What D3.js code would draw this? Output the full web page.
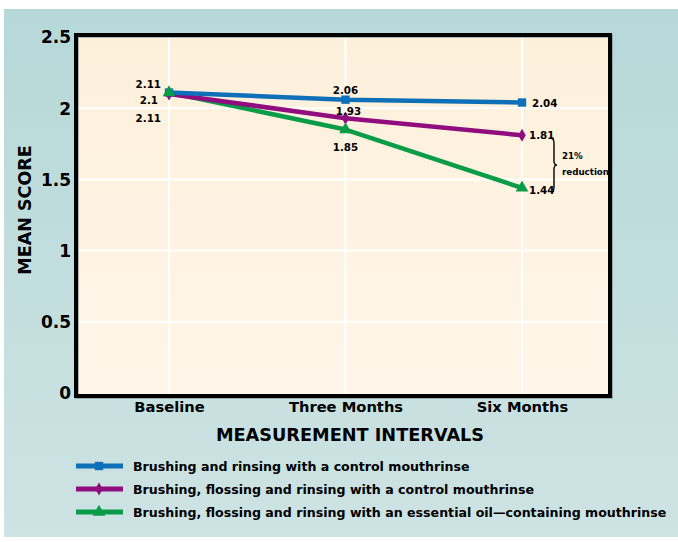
<!DOCTYPE html>
<html>
<head>
<meta charset="utf-8">
<script src="https://cdn.jsdelivr.net/npm/d3@7"></script>
<style>
  html, body { margin: 0; padding: 0; background: #ffffff; }
  svg { display: block; }
  text { font-family: "DejaVu Sans", sans-serif; font-weight: bold; fill: #000; }
</style>
</head>
<body>
<svg id="chart" width="678" height="542"></svg>
<script>
// Measurement intervals and mean scores for each regimen
const categories = ["Baseline", "Three Months", "Six Months"];
const brushRinseControl = [2.11, 2.06, 2.04];
const brushFlossControl = [2.1, 1.93, 1.81];
const brushFlossEssentialOil = [2.11, 1.85, 1.44];
const yTicks = [0, 0.5, 1, 1.5, 2, 2.5];
const seriesNames = [
  "Brushing and rinsing with a control mouthrinse",
  "Brushing, flossing and rinsing with a control mouthrinse",
  "Brushing, flossing and rinsing with an essential oil\u2014containing mouthrinse"
];
const reductionLabel = ["21%", "reduction"];

const series = [
  { name: seriesNames[0], values: brushRinseControl, color: "#0d70b8", symbol: d3.symbolSquare, size: 70 },
  { name: seriesNames[1], values: brushFlossControl, color: "#900d80", symbol: d3.symbolDiamond, size: 50 },
  { name: seriesNames[2], values: brushFlossEssentialOil, color: "#0b9c4a", symbol: d3.symbolTriangle, size: 70 }
];

const svg = d3.select("#chart");
const defs = svg.append("defs");

const bgGrad = defs.append("linearGradient").attr("id", "bgGrad").attr("x1", 0).attr("y1", 0).attr("x2", 0).attr("y2", 1);
bgGrad.append("stop").attr("offset", "0%").attr("stop-color", "#b6d8d8");
bgGrad.append("stop").attr("offset", "100%").attr("stop-color", "#cee3e3");

const plotGrad = defs.append("linearGradient").attr("id", "plotGrad").attr("x1", 0).attr("y1", 0).attr("x2", 0).attr("y2", 1);
plotGrad.append("stop").attr("offset", "0%").attr("stop-color", "#fdf0db");
plotGrad.append("stop").attr("offset", "100%").attr("stop-color", "#fff6e9");

// Panel background
svg.append("rect").attr("x", 4).attr("y", 9).attr("width", 674).attr("height", 528).attr("fill", "url(#bgGrad)");

// Plot area
const plot = { left: 76, right: 610, top: 35, bottom: 396 };
const y = d3.scaleLinear().domain([0, 2.5]).range([393, 37]);
const x = d3.scalePoint().domain(categories).range([169, 522]);

svg.append("rect")
  .attr("x", plot.left).attr("y", plot.top)
  .attr("width", plot.right - plot.left).attr("height", plot.bottom - plot.top)
  .attr("fill", "url(#plotGrad)");

// Grid lines
svg.append("g").selectAll("line").data(yTicks.filter(t => t > 0 && t < 2.5)).join("line")
  .attr("x1", plot.left).attr("x2", plot.right)
  .attr("y1", d => y(d)).attr("y2", d => y(d))
  .attr("stroke", "#ffffff").attr("stroke-width", 2);
svg.append("g").selectAll("line").data(categories).join("line")
  .attr("x1", d => x(d)).attr("x2", d => x(d))
  .attr("y1", plot.top).attr("y2", plot.bottom)
  .attr("stroke", "#ffffff").attr("stroke-width", 2);

// Frame
svg.append("rect")
  .attr("x", plot.left + 1).attr("y", plot.top + 1)
  .attr("width", plot.right - plot.left).attr("height", plot.bottom - plot.top)
  .attr("fill", "none").attr("stroke", "#5f7a7a").attr("stroke-width", 4).attr("opacity", 0.5);
svg.append("rect")
  .attr("x", plot.left).attr("y", plot.top)
  .attr("width", plot.right - plot.left).attr("height", plot.bottom - plot.top)
  .attr("fill", "none").attr("stroke", "#000").attr("stroke-width", 4);

// Y axis labels
const yAxis = d3.axisLeft(y).tickValues(yTicks).tickSize(0).tickPadding(0).tickFormat(d3.format(""));
const yg = svg.append("g").attr("transform", `translate(${plot.left - 5},0)`).call(yAxis);
yg.select(".domain").remove();
yg.selectAll("text").attr("font-size", 17).attr("dy", "0.35em")
  .style("font-family", "'DejaVu Sans', sans-serif").style("font-weight", "bold");

// X axis labels
const xAxis = d3.axisBottom(x).tickSize(0).tickPadding(0);
const xg = svg.append("g").attr("transform", `translate(0,${plot.bottom + 16})`).call(xAxis);
xg.select(".domain").remove();
xg.selectAll("text").attr("font-size", 14.7).attr("dy", 0)
  .style("font-family", "'DejaVu Sans', sans-serif").style("font-weight", "bold");

// Axis titles
svg.append("text").attr("x", 350).attr("y", 441).attr("text-anchor", "middle")
  .attr("font-size", 17.7).text("MEASUREMENT INTERVALS");
svg.append("text").attr("transform", "translate(31,210) rotate(-90)").attr("text-anchor", "middle")
  .attr("font-size", 17.5).text("MEAN SCORE");

// Lines and markers
const line = d3.line().x((d, i) => x(categories[i])).y(d => y(d));
series.slice().reverse().forEach(s => {
  svg.append("path").datum(s.values).attr("d", line)
    .attr("fill", "none").attr("stroke", s.color).attr("stroke-width", 4.5).attr("stroke-linejoin", "round");
});
series.forEach(s => {
  svg.append("g").selectAll("path").data(s.values).join("path")
    .attr("transform", (d, i) => `translate(${x(categories[i])},${y(d)})`)
    .attr("d", d3.symbol(s.symbol, s.size))
    .attr("fill", s.color);
});

// Value labels
const lbl = (tx, ty, t, anchor) => svg.append("text").attr("x", tx).attr("y", ty)
  .attr("text-anchor", anchor).attr("font-size", 10.3).text(t);
const fmt = d => String(d);
const x0 = x(categories[0]), x1 = x(categories[1]), x2 = x(categories[2]);
lbl(x0 - 8, y(brushRinseControl[0]) - 5, fmt(brushRinseControl[0]), "end");
lbl(x0 - 11, y(brushFlossControl[0]) + 10, fmt(brushFlossControl[0]), "end");
lbl(x0 - 8, y(brushFlossEssentialOil[0]) + 29, fmt(brushFlossEssentialOil[0]), "end");
lbl(x1, y(brushRinseControl[1]) - 6, fmt(brushRinseControl[1]), "middle");
lbl(x1 + 3, y(brushFlossControl[1]) - 3, fmt(brushFlossControl[1]), "middle");
lbl(x1, y(brushFlossEssentialOil[1]) + 21, fmt(brushFlossEssentialOil[1]), "middle");
lbl(x2 + 10, y(brushRinseControl[2]) + 4, fmt(brushRinseControl[2]), "start");
lbl(x2 + 7, y(brushFlossControl[2]) + 4, fmt(brushFlossControl[2]), "start");
lbl(x2 + 7, y(brushFlossEssentialOil[2]) + 6, fmt(brushFlossEssentialOil[2]), "start");

// Brace spanning the six-month gap
const bTop = y(brushFlossControl[2]) + 3, bBot = y(brushFlossEssentialOil[2]) + 4, bx = 553;
const bMid = (bTop + bBot) / 2;
svg.append("path")
  .attr("d", `M${bx - 2},${bTop} Q${bx + 1},${bTop} ${bx + 1},${bTop + 5} L${bx + 1},${bMid - 4} Q${bx + 1},${bMid} ${bx + 4},${bMid}` +
             ` Q${bx + 1},${bMid} ${bx + 1},${bMid + 4} L${bx + 1},${bBot - 5} Q${bx + 1},${bBot} ${bx - 2},${bBot}`)
  .attr("fill", "none").attr("stroke", "#000").attr("stroke-width", 1.4);
svg.append("text").attr("x", 562).attr("y", 159).attr("font-size", 8.7).text(reductionLabel[0]);
svg.append("text").attr("x", 562).attr("y", 175).attr("font-size", 8.7).text(reductionLabel[1]);

// Legend
const legendY = [466, 489, 512];
series.forEach((s, i) => {
  const g = svg.append("g").attr("transform", `translate(0,${legendY[i]})`);
  g.append("line").attr("x1", 76).attr("x2", 123).attr("stroke", s.color).attr("stroke-width", 5);
  g.append("path").attr("transform", "translate(99,0)").attr("d", d3.symbol(s.symbol, s.size)).attr("fill", s.color);
  g.append("text").attr("x", 133).attr("y", 5).attr("font-size", 12.6).text(s.name);
});
</script>
</body>
</html>
